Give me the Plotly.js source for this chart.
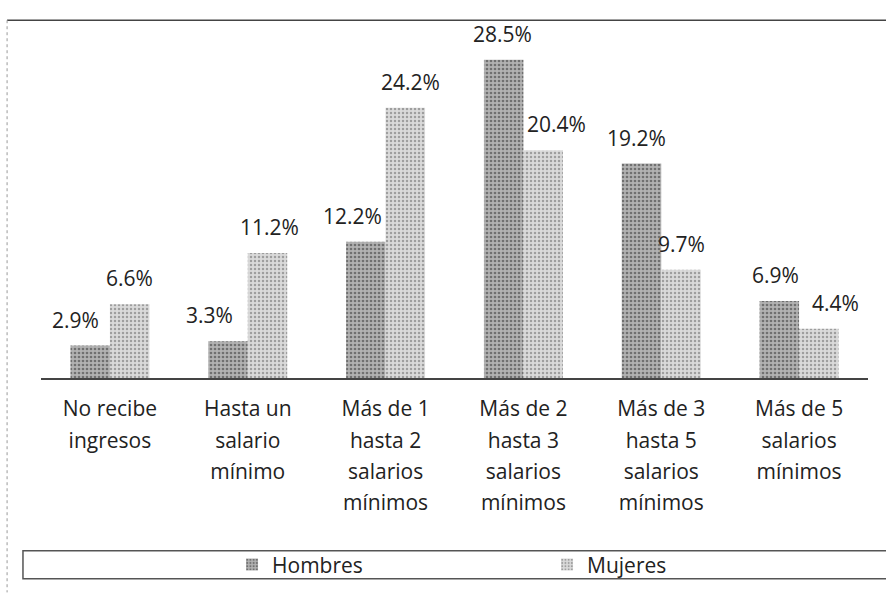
<!DOCTYPE html>
<html>
<head>
<meta charset="utf-8">
<script src="https://cdn.plot.ly/plotly-3.0.1.min.js"></script>
<style>html,body{margin:0;padding:0;background:#fff;}#chart{width:886px;height:597px;}</style>
</head>
<body>
<div id="chart"></div>
<script>
// ---- data ----
const categories = ["No recibe ingresos", "Hasta un salario mínimo", "Más de 1 hasta 2 salarios mínimos",
  "Más de 2 hasta 3 salarios mínimos", "Más de 3 hasta 5 salarios mínimos", "Más de 5 salarios mínimos"];
const tickLines = [
  ["No recibe", "ingresos"],
  ["Hasta un", "salario", "mínimo"],
  ["Más de 1", "hasta 2", "salarios", "mínimos"],
  ["Más de 2", "hasta 3", "salarios", "mínimos"],
  ["Más de 3", "hasta 5", "salarios", "mínimos"],
  ["Más de 5", "salarios", "mínimos"]
];
const hombres = [2.9, 3.3, 12.2, 28.5, 19.2, 6.9];
const mujeres = [6.6, 11.2, 24.2, 20.4, 9.7, 4.4];
const seriesNames = ["Hombres", "Mujeres"];

// ---- styling ----
const FONT = "Open Sans, Noto Sans, sans-serif";
const labelNudgeH = [-14, -18, -13, -1, -5, -4];
const labelNudgeM = [0, 2, 5, 13, 0, 16];
const halfBar = 20;

const tickText = tickLines.map(ls => ls.map(l => '<span style="font-size:21px">' + l + '</span>').join('<br>'));

const traces = [
  {
    type: 'bar', name: seriesNames[0], x: categories, y: hombres,
    marker: {color: '#a9a9a9', line: {width: 0},
      pattern: {shape: '.', fgcolor: '#707070', bgcolor: '#b2b2b2', size: 4, solidity: 0.35}},
    hoverinfo: 'none'
  },
  {
    type: 'bar', name: seriesNames[1], x: categories, y: mujeres,
    marker: {color: '#d2d2d2', line: {width: 0},
      pattern: {shape: '.', fgcolor: '#9e9e9e', bgcolor: '#dadada', size: 4, solidity: 0.3}},
    hoverinfo: 'none'
  }
];

const annotations = [];
categories.forEach((c, i) => {
  annotations.push({x: c, y: hombres[i], xref: 'x', yref: 'y', text: hombres[i].toFixed(1) + '%',
    showarrow: false, yanchor: 'bottom', xanchor: 'center', xshift: -halfBar + labelNudgeH[i], yshift: 10,
    font: {family: FONT, size: 21, color: '#222'}});
  annotations.push({x: c, y: mujeres[i], xref: 'x', yref: 'y', text: mujeres[i].toFixed(1) + '%',
    showarrow: false, yanchor: 'bottom', xanchor: 'center', xshift: halfBar + labelNudgeM[i], yshift: 10,
    font: {family: FONT, size: 21, color: '#222'}});
});

const layout = {
  width: 886, height: 597,
  margin: {l: 41, r: 18, t: 43, b: 215},
  paper_bgcolor: '#fff', plot_bgcolor: '#fff',
  barmode: 'group', bargap: 0.427, bargroupgap: 0,
  font: {family: FONT, color: '#222'},
  xaxis: {
    tickvals: categories, ticktext: tickText, tickfont: {family: FONT, size: 24, color: '#222'},
    showline: true, linecolor: '#444', linewidth: 1.5, ticks: '', showgrid: false, zeroline: false,
    tickangle: 0, ticklabelstandoff: 8, fixedrange: true, automargin: false
  },
  yaxis: {range: [0, 30], visible: false, showgrid: false, zeroline: false, fixedrange: true},
  showlegend: true,
  legend: {orientation: 'h', x: 0.231, xanchor: 'left', y: -0.558, yanchor: 'middle',
    entrywidth: 270, entrywidthmode: 'pixels', itemwidth: 30, tracegroupgap: 0,
    font: {family: FONT, size: 21, color: '#222'}, bgcolor: 'rgba(0,0,0,0)', borderwidth: 0},
  annotations: annotations,
  shapes: [
    {type: 'rect', xref: 'paper', yref: 'paper', x0: -0.0218, x1: 1.03, y0: -0.516, y1: -0.599,
      line: {color: '#555', width: 1.5}},
    {type: 'line', xref: 'paper', yref: 'paper', x0: -0.041, x1: 1.03, y0: 1.068, y1: 1.068,
      line: {color: '#444', width: 1.5}},
    {type: 'line', xref: 'paper', yref: 'paper', x0: -0.041, x1: -0.041, y0: 1.068, y1: -0.64,
      line: {color: '#999', width: 1, dash: 'dot'}}
  ]
};

Plotly.newPlot('chart', traces, layout, {displayModeBar: false, staticPlot: true});
</script>
</body>
</html>
